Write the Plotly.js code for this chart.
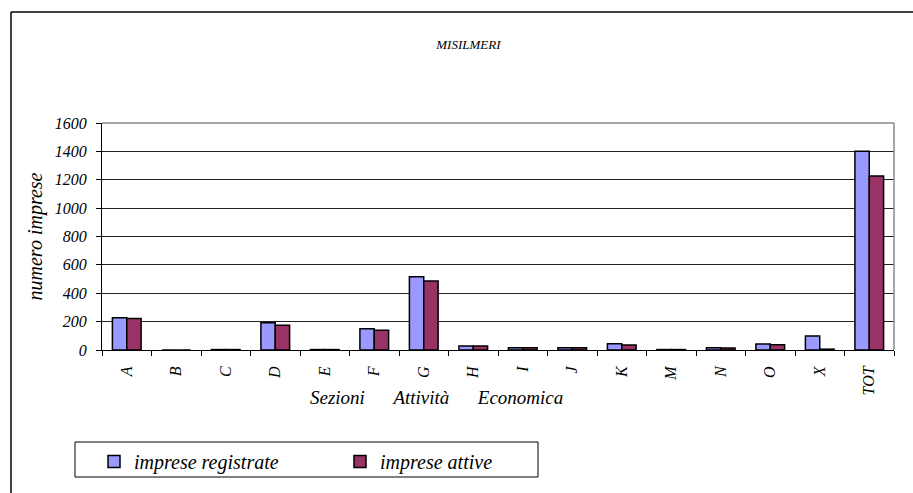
<!DOCTYPE html>
<html><head><meta charset="utf-8">
<script src="https://cdn.plot.ly/plotly-3.0.1.min.js"></script>
<style>html,body{margin:0;padding:0;background:#fff}#c{width:913px;height:493px}</style>
</head><body><div id="c"></div>
<script>
const categories = ["A","B","C","D","E","F","G","H","I","J","K","M","N","O","X","TOT"];
const registrate = [227, 0, 3, 192, 3, 150, 516, 28, 15, 15, 44, 3, 16, 42, 99, 1401];
const attive     = [222, 0, 3, 174, 3, 139, 486, 28, 15, 15, 35, 3, 14, 37, 6, 1227];
const yTicks = [0,200,400,600,800,1000,1200,1400,1600];

const serif = "Liberation Serif";
const data = [
  {type:"bar", name:"<i>imprese registrate</i>", x:categories, y:registrate,
   marker:{color:"#9999FF", line:{color:"#000", width:1.5}}},
  {type:"bar", name:"<i>imprese attive</i>", x:categories, y:attive,
   marker:{color:"#993366", line:{color:"#000", width:1.5}}}
];

const px = v => (v-102)/792;
const py = v => (350-v)/227;

const layout = {
  width:913, height:493,
  margin:{l:102, r:19, t:123, b:143},
  paper_bgcolor:"#fff", plot_bgcolor:"#fff",
  font:{family:serif, color:"#000"},
  barmode:"group", bargap:0.42, bargroupgap:0,
  title:{text:"<i>MISILMERI</i>", font:{family:serif, size:13, color:"#000"},
         x:0.513, xanchor:"center", y:0.909, yanchor:"middle"},
  xaxis:{type:"category", tickvals:categories, ticktext:categories.map(c=>"<i>"+c+"</i>"),
         tickangle:-90, tickfont:{family:serif, size:16}, ticklabelstandoff:9,
         showline:true, linecolor:"#000", linewidth:1,
         ticks:"outside", tickson:"boundaries", ticklen:5, tickcolor:"#000",
         showgrid:false, mirror:false},
  yaxis:{range:[0,1600], tickvals:yTicks, ticktext:yTicks.map(v=>"<i>"+v+"</i>"),
         tickfont:{family:serif, size:16}, ticklabelstandoff:6,
         showline:true, linecolor:"#000", linewidth:1,
         ticks:"outside", ticklen:5, tickcolor:"#000",
         showgrid:true, gridcolor:"#222", gridwidth:1, zeroline:false,
         title:{text:"<i>numero imprese</i>", font:{family:serif, size:20}, standoff:6}},
  showlegend:true,
  legend:{orientation:"h", x:px(94), xanchor:"left", y:py(442), yanchor:"top",
          borderwidth:0, bgcolor:"rgba(0,0,0,0)",
          font:{family:serif, size:20}, entrywidth:201, itemwidth:30,
          traceorder:"normal"},
  annotations:[
    {xref:"paper", yref:"paper", x:px(436), y:py(397), xanchor:"center", yanchor:"middle",
     showarrow:false, font:{family:serif, size:19},
     text:"<i>Sezioni\u00A0\u00A0\u00A0\u00A0\u00A0\u00A0Attività\u00A0\u00A0\u00A0\u00A0\u00A0\u00A0Economica</i>"}
  ],
  shapes:[
    {type:"line", xref:"paper", yref:"paper", x0:0, x1:1, y0:1, y1:1, line:{color:"#888", width:1.5}},
    {type:"line", xref:"paper", yref:"paper", x0:1, x1:1, y0:0, y1:1, line:{color:"#888", width:1.5}},
    {type:"rect", xref:"paper", yref:"paper", x0:px(75), x1:px(538), y0:py(442), y1:py(477), line:{color:"#000", width:1}},
    {type:"line", xref:"paper", yref:"paper", x0:px(11), x1:px(11), y0:py(12), y1:py(493), line:{color:"#000", width:1.5}},
    {type:"line", xref:"paper", yref:"paper", x0:px(11), x1:px(913), y0:py(12), y1:py(12), line:{color:"#000", width:1.5}}
  ]
};
Plotly.newPlot("c", data, layout, {displayModeBar:false, staticPlot:true});
</script></body></html>
